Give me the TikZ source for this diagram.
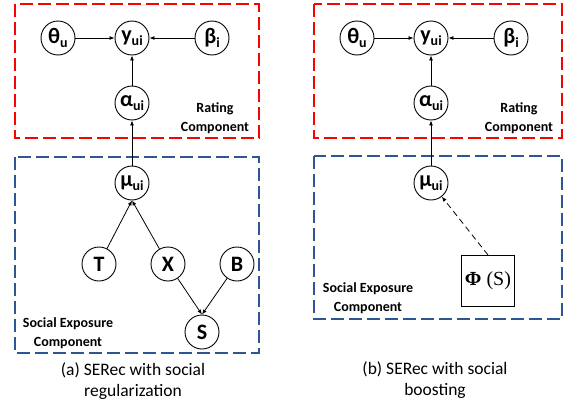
\documentclass[tikz,border=0pt]{standalone}
\usepackage{fontspec}
\setmainfont{Carlito}
\newfontfamily\serifphi{Liberation Serif}
\usetikzlibrary{arrows.meta}

\definecolor{ratingred}{RGB}{255,0,0}
\definecolor{exposeblue}{RGB}{47,85,151}
\newcommand{\idx}[1]{\raisebox{-0.35ex}{\fontsize{14}{14}\selectfont #1}}

\tikzset{
  var/.style={circle, draw, line width=0.9pt, minimum size=34pt, inner sep=0pt,
    font=\bfseries\fontsize{22}{22}\selectfont},
  edge/.style={-{Latex[length=5pt,width=4pt]}, line width=0.8pt},
  ratingbox/.style={draw=ratingred, line width=1.6pt, dash pattern=on 13pt off 5pt},
  exposebox/.style={draw=exposeblue, line width=1.6pt, dash pattern=on 13pt off 5pt},
  boxlabel/.style={align=center, font=\bfseries\fontsize{14}{19}\selectfont},
  caption/.style={align=center, font=\fontsize{17.5}{21}\selectfont}
}

\begin{document}
\begin{tikzpicture}[x=1pt, y=-1pt]
  \useasboundingbox (0,0) rectangle (571,407);

  % (a) social regularization
  \draw[ratingbox] (15,4) rectangle (259,138);
  \draw[exposebox] (15,157) rectangle (259,353);
  \node (thetaa) [var] at (58,38) {θ\idx{u}};
  \node (ya) [var] at (132,38) {y\idx{ui}};
  \node (betaa) [var] at (212,38) {β\idx{i}};
  \node (alphaa) [var] at (132,103) {α\idx{ui}};
  \node (mua) [var] at (132,183) {μ\idx{ui}};
  \node (t) [var] at (99,264) {T};
  \node (x) [var] at (168,264) {X};
  \node (b) [var] at (237,264) {B};
  \node (s) [var] at (202,332) {S};
  \node (ratinga) [boxlabel] at (215,118) {Rating\\Component};
  \node (exposea) [boxlabel] at (68,333) {Social Exposure\\Component};
  \node (capa) [caption] at (133,381) {(a) SERec with social\\regularization};
  \draw[edge] (thetaa) -- (ya);
  \draw[edge] (betaa) -- (ya);
  \draw[edge] (alphaa) -- (ya);
  \draw[edge] (mua) -- (alphaa);
  \draw[edge] (t) -- (mua.south);
  \draw[edge] (x) -- (mua.south);
  \draw[edge] (x) -- (s.north);
  \draw[edge] (b) -- (s.north);

  % (b) social boosting
  \draw[ratingbox] (314,4) rectangle (562,138);
  \draw[exposebox] (314,156) rectangle (562,319);
  \node (thetab) [var] at (357,38) {θ\idx{u}};
  \node (yb) [var] at (431,38) {y\idx{ui}};
  \node (betab) [var] at (511,38) {β\idx{i}};
  \node (alphab) [var] at (431,103) {α\idx{ui}};
  \node (mub) [var] at (431,183) {μ\idx{ui}};
  \node (phi) [draw, line width=1pt, minimum width=52pt, minimum height=51pt,
    font=\serifphi\fontsize{20}{20}\selectfont] at (488,281) {\textbf{Φ} (S)};
  \node (ratingb) [boxlabel] at (519,118) {Rating\\Component};
  \node (exposeb) [boxlabel] at (368,298) {Social Exposure\\Component};
  \node (capb) [caption] at (435,380) {(b) SERec with social\\boosting};
  \draw[edge] (thetab) -- (yb);
  \draw[edge] (betab) -- (yb);
  \draw[edge] (alphab) -- (yb);
  \draw[edge] (mub) -- (alphab);
  \draw[edge, dash pattern=on 6pt off 4pt] (phi.north) -- (mub);
\end{tikzpicture}
\end{document}
